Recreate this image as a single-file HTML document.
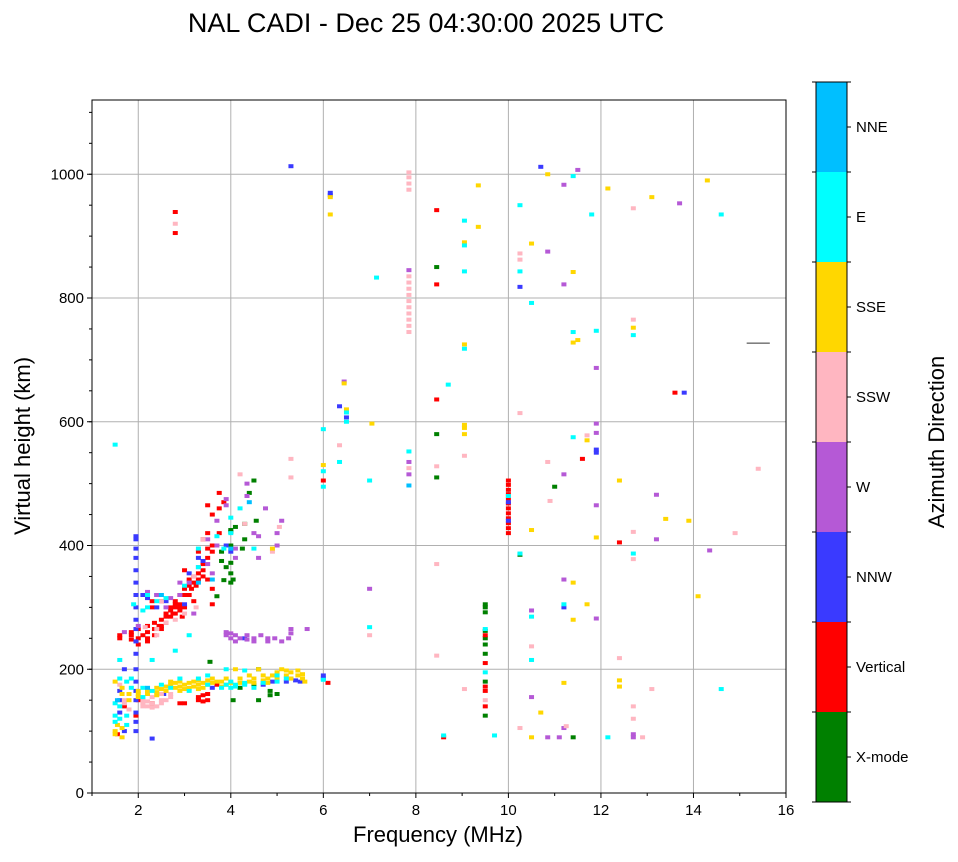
<!DOCTYPE html>
<html><head><meta charset="utf-8"><style>
body{margin:0;background:#fff;}
svg text{font-family:"Liberation Sans",sans-serif;}
</style></head><body>
<svg id="chart" width="958" height="857" viewBox="0 0 958 857" xmlns="http://www.w3.org/2000/svg">
<text x="426" y="32" font-size="27" text-anchor="middle">NAL CADI - Dec 25 04:30:00 2025 UTC</text>
<g id="grid"></g>
<g id="marks"></g>
<rect x="92" y="100" width="694" height="693" fill="none" stroke="#000" stroke-width="1"/>
<g id="axes"></g>
<text x="438" y="842" font-size="22" text-anchor="middle">Frequency (MHz)</text>
<text transform="translate(30,446) rotate(-90)" font-size="22" text-anchor="middle">Virtual height (km)</text>
<g id="cbar"></g>
<text transform="translate(944,442) rotate(-90)" font-size="22" text-anchor="middle">Azimuth Direction</text>
</svg>
<script>
const xTicks=[2,4,6,8,10,12,14,16];
const yTicks=[0,200,400,600,800,1000];
const catNames=["X-mode","Vertical","NNW","W","SSW","SSE","E","NNE"];
const catColors=["#008000","#ff0000","#3a3aff","#b559d6","#ffb6c1","#ffd700","#00ffff","#00bfff"];
const xmodePts=[[8.45,850],[8.45,580],[8.45,510],[11.0,495],[11.4,90],[10.25,385],[9.5,300],[9.5,305],[9.5,292],[9.5,262],[9.5,250],[9.5,240],[9.5,225],[9.5,180],[9.5,125],[4.0,425],[4.0,422],[4.0,400],[4.0,372],[4.0,355],[4.0,340],[4.05,345],[4.1,430],[3.8,390],[3.8,375],[3.85,344],[4.3,435],[4.3,410],[4.55,440],[4.5,505],[4.05,150],[4.6,150],[4.85,158],[4.85,165],[5.0,160],[4.5,175],[3.7,318],[4.4,485],[4.2,170],[3.55,212],[4.6,200],[3.9,365],[4.25,395]];
const vertPts=[[2.8,939],[2.8,905],[8.45,942],[8.45,822],[8.45,636],[8.6,90],[11.6,540],[12.4,405],[13.6,647],[6.0,505],[6.1,178],[9.5,255],[9.5,210],[9.5,165],[9.5,140],[9.5,172],[10.0,505],[10.0,498],[10.0,490],[10.0,483],[10.0,476],[10.0,468],[10.0,460],[10.0,452],[10.0,444],[10.0,436],[10.0,428],[10.0,420],
[1.6,255],[1.6,250],[1.85,260],[1.85,255],[1.85,248],[2.0,265],[2.0,250],[2.0,240],[2.1,255],[2.2,260],[2.2,250],[2.2,245],[2.2,270],[2.35,265],[2.35,275],[2.35,255],[2.5,270],[2.5,280],[2.5,265],[2.6,285],[2.6,275],[2.6,290],[2.7,295],[2.7,300],[2.7,285],[2.8,300],[2.8,310],[2.8,290],[2.8,305],[2.9,305],[2.9,295],[2.9,320],[3.0,320],[3.0,330],[3.1,335],[3.1,345],[3.1,320],[3.2,350],[3.2,340],[3.2,310],[3.3,355],[3.3,345],[3.3,390],[3.4,360],[3.4,370],[3.4,350],[3.4,410],[3.5,380],[3.5,395],[3.5,345],[3.5,420],[3.5,465],[3.6,390],[3.6,400],[3.6,450],[3.6,330],[3.75,420],[3.75,485],[3.75,460],[3.85,470],[2.3,310],[2.3,300],[2.5,310],[3.0,360],[3.0,300],[3.6,305],[2.9,300],[2.95,285],[2.75,290],[3.15,330],[3.25,335],[2.45,270],
[3.3,150],[3.3,155],[3.5,160],[3.5,150],[3.0,145],[2.0,150],[2.3,145],[3.7,175],[2.9,145],[1.95,125],[1.55,95],[1.7,140],[3.4,148],[3.4,158]];
const nnwPts=[[6.15,970],[6.15,966],[5.3,1013],[10.25,818],[10.7,1012],[11.2,300],[11.9,555],[11.9,550],[13.8,647],[6.35,625],[6.5,607],[6.0,190],[10.0,470],[10.0,440],
[1.95,100],[1.95,115],[1.95,130],[1.95,150],[1.95,165],[1.95,180],[1.95,200],[1.95,225],[1.95,245],[1.95,265],[1.95,280],[1.95,300],[1.95,320],[1.95,340],[1.95,360],[1.95,380],[1.95,395],[1.95,410],[1.95,415],
[1.6,130],[1.6,150],[1.6,165],[1.7,100],[1.7,200],[2.3,88],[2.6,310],[2.4,300],[2.4,320],[2.2,315],[2.1,320],[3.1,355],[3.4,375],[3.0,305],[5.5,180],[5.3,185],[5.2,180],[5.4,182],[4.7,175],[4.9,180],[4.3,250],[3.6,170],[2.55,160],[4.0,390],[3.9,400],[3.3,380],[6.0,185]];
const wPts=[[11.2,983],[11.2,822],[11.2,515],[11.2,345],[11.2,105],[10.85,875],[10.85,90],[11.1,90],[11.5,1007],[11.9,687],[11.9,597],[11.9,582],[11.9,465],[11.9,282],[12.7,95],[12.7,90],[13.2,482],[13.2,410],[13.7,953],[14.35,392],[6.45,665],[7.0,330],[7.85,845],[7.85,535],[7.85,515],[10.5,295],[10.5,155],
[3.9,260],[3.9,255],[4.0,250],[4.0,258],[4.1,245],[4.1,255],[4.2,250],[4.35,255],[4.35,248],[4.5,250],[4.5,245],[4.65,255],[4.8,250],[4.8,245],[4.95,250],[5.1,245],[5.3,265],[5.3,258],[5.25,250],[5.65,265],
[2.9,320],[2.9,340],[2.7,315],[3.1,340],[3.3,365],[3.5,370],[3.5,410],[3.7,400],[3.7,440],[3.9,475],[3.9,465],[4.1,380],[4.1,395],[4.35,500],[4.35,480],[4.6,415],[4.6,380],[4.75,460],[5.0,420],[5.0,400],[2.2,325],[2.4,320],[2.0,270],[1.7,260],[2.6,300],[4.5,420],[5.1,440],[3.2,290],[3.6,355]];
const sswPts=[[2.8,920],[7.85,745],[7.85,755],[7.85,765],[7.85,775],[7.85,785],[7.85,795],[7.85,805],[7.85,815],[7.85,825],[7.85,835],[7.85,975],[7.85,985],[7.85,995],[7.85,1003],[7.85,525],[8.45,528],[8.45,370],[8.45,222],[9.05,545],[9.05,168],[10.25,872],[10.25,862],[10.25,614],[10.25,105],[10.5,237],[10.85,535],[10.9,472],[11.25,108],[11.7,578],[12.4,218],[12.7,945],[12.7,765],[12.7,422],[12.7,378],[12.7,140],[12.7,120],[13.1,168],[12.9,90],[14.9,420],[15.4,524],[6.35,562],[7.0,255],[9.5,150],
[2.1,145],[2.1,140],[2.1,150],[2.2,140],[2.2,148],[2.3,138],[2.3,145],[2.3,155],[2.5,145],[2.5,150],[2.5,160],[2.7,155],[2.7,160],[1.7,150],[1.7,145],[1.6,175],[2.4,265],[2.4,255],[2.6,275],[2.8,280],[3.0,290],[3.2,350],[4.3,435],[4.9,390],[5.05,430],[5.3,540],[5.3,510],[4.2,515],[3.4,410],[1.8,135],[2.5,310],[2.6,150],[2.4,140],[2.15,268],[3.25,300]];
const ssePts=[[6.15,963],[6.15,935],[9.05,890],[9.05,725],[9.05,595],[9.05,590],[9.05,580],[9.35,982],[9.35,915],[10.5,888],[10.5,425],[10.5,90],[10.7,130],[10.85,1000],[11.2,178],[11.4,842],[11.4,728],[11.4,340],[11.4,280],[11.5,732],[11.7,570],[11.7,305],[11.9,413],[12.15,977],[12.4,505],[12.4,172],[12.4,182],[12.7,752],[13.1,963],[13.4,443],[13.9,440],[14.1,318],[14.3,990],[6.45,662],[6.5,620],[6.0,530],[7.05,597],
[2.0,155],[2.0,160],[2.0,165],[2.2,160],[2.2,165],[2.4,158],[2.4,163],[2.4,170],[2.6,165],[2.6,172],[2.7,175],[2.7,180],[2.8,170],[2.8,178],[2.9,172],[2.9,180],[3.0,175],[3.0,168],[3.1,178],[3.1,170],[3.2,180],[3.2,172],[3.3,175],[3.3,168],[3.3,182],[3.4,178],[3.4,170],[3.5,182],[3.5,175],[3.6,178],[3.6,185],[3.8,180],[3.8,172],[3.9,175],[3.9,185],[4.0,178],[4.2,185],[4.2,178],[4.4,180],[4.4,190],[4.5,185],[4.5,178],[4.7,190],[4.7,182],[4.8,185],[4.8,178],[4.9,190],[5.0,195],[5.0,185],[5.2,190],[5.2,198],[5.3,195],[5.3,185],[5.45,198],[5.45,190],[5.55,192],[5.55,185],[5.6,180],[1.5,95],[1.5,100],[1.5,180],[1.65,90],[1.65,105],[1.65,170],[1.65,160],[1.8,160],[1.8,150],[1.55,110],[4.9,395],[4.1,200],[4.6,200],[2.9,165],[3.7,180],[2.5,168],[5.1,200]];
const ePts=[[9.05,925],[9.05,885],[9.05,843],[9.05,718],[8.7,660],[8.6,93],[10.25,950],[10.25,843],[10.25,387],[10.5,792],[10.5,285],[10.5,215],[11.2,305],[11.4,997],[11.4,745],[11.4,575],[11.8,935],[11.9,747],[12.15,90],[12.7,740],[12.7,387],[14.6,935],[14.6,168],[6.5,615],[6.5,600],[6.35,535],[6.0,588],[6.0,520],[6.0,495],[6.0,183],[7.0,268],[7.0,505],[7.15,833],[7.85,552],[9.5,265],[9.5,195],[9.7,93],[1.5,563],[10.0,480],
[1.5,115],[1.5,125],[1.5,145],[1.6,120],[1.6,140],[1.6,185],[1.6,215],[1.75,110],[1.75,125],[1.75,180],[1.85,170],[1.85,185],[2.1,155],[2.1,170],[2.3,165],[2.3,215],[2.5,175],[2.7,170],[2.9,185],[3.1,165],[3.1,255],[3.3,185],[3.5,175],[3.5,190],[3.8,170],[3.9,175],[4.0,170],[4.0,180],[4.1,175],[4.1,172],[4.3,175],[4.3,178],[4.5,170],[4.7,178],[5.0,180],[5.0,190],[5.2,185],[2.2,320],[2.2,300],[2.4,310],[2.1,295],[3.3,395],[3.3,365],[3.0,335],[3.7,415],[4.0,445],[4.0,420],[4.2,460],[4.5,395],[3.85,395],[2.6,315],[1.9,305],[3.9,200],[4.3,198],[2.8,230]];
const nnePts=[[7.85,497],[2.5,320],[4.4,470],[4.0,395],[3.3,340],[2.2,170],[1.55,150],[3.6,345]];
const series=[xmodePts,vertPts,nnwPts,wPts,sswPts,ssePts,ePts,nnePts];

const X0=92,X1=786,Y0=793,Y1=100;
const xScale=f=>X0+(f-1)*(X1-X0)/15;
const yScale=h=>Y0-h*(Y0-Y1)/1120;
const NS="http://www.w3.org/2000/svg";
function mk(tag,attrs,parent){const e=document.createElementNS(NS,tag);for(const k in attrs)e.setAttribute(k,attrs[k]);parent.appendChild(e);return e;}
const grid=document.getElementById('grid'),axes=document.getElementById('axes'),marks=document.getElementById('marks'),cbar=document.getElementById('cbar');
xTicks.forEach(t=>{const x=xScale(t);
 if(t<16){const g=mk('line',{x1:x,x2:x,y1:Y1,y2:Y0,stroke:'#b0b0b0','stroke-width':1},grid);
 }
 mk('line',{x1:x,x2:x,y1:Y0,y2:Y0+5,stroke:'#000'},axes);
 const tx=mk('text',{x:x,y:Y0+22,'font-size':15,'text-anchor':'middle'},axes);tx.textContent=t;
 
 mk('line',{x1:xScale(t-1),x2:xScale(t-1),y1:Y0,y2:Y0+3,stroke:'#000'},axes);});
for(let h=0;h<=1100;h+=50){mk('line',{x1:X0-3,x2:X0,y1:yScale(h),y2:yScale(h),stroke:'#000'},axes);}
yTicks.forEach(t=>{const y=yScale(t);
 if(t>0){const g=mk('line',{x1:X0,x2:X1,y1:y,y2:y,stroke:'#b0b0b0','stroke-width':1},grid);
 }
 mk('line',{x1:X0-5,x2:X0,y1:y,y2:y,stroke:'#000'},axes);
 const tx=mk('text',{x:X0-8,y:y+5,'font-size':15,'text-anchor':'end'},axes);tx.textContent=t;
 });
series.forEach((pts,ci)=>{pts.forEach(p=>{
 const r=mk('rect',{x:xScale(p[0])-2.5,y:yScale(p[1])-2,width:5,height:4,fill:catColors[ci]},marks);
 
 });});
const ln=mk('line',{x1:xScale(15.15),x2:xScale(15.65),y1:yScale(727),y2:yScale(727),stroke:'#333','stroke-width':1},marks);

const CB0=82,CB1=802,segH=(CB1-CB0)/8;
catNames.forEach((n,i)=>{const y=CB1-(i+1)*segH;
 const r=mk('rect',{x:816,y:y,width:31,height:segH,fill:catColors[i]},cbar);
 
 mk('line',{x1:847,x2:851,y1:y+segH/2,y2:y+segH/2,stroke:'#000'},cbar);
 const t=mk('text',{x:856,y:y+segH/2+5,'font-size':15},cbar);t.textContent=n;
 });
for(let i=0;i<=8;i++){const y=CB0+i*segH;mk('line',{x1:812,x2:816,y1:y,y2:y,stroke:'#000'},cbar);mk('line',{x1:847,x2:851,y1:y,y2:y,stroke:'#000'},cbar);}
mk('rect',{x:816,y:CB0,width:31,height:CB1-CB0,fill:'none',stroke:'#000'},cbar);
</script>
</body></html>
